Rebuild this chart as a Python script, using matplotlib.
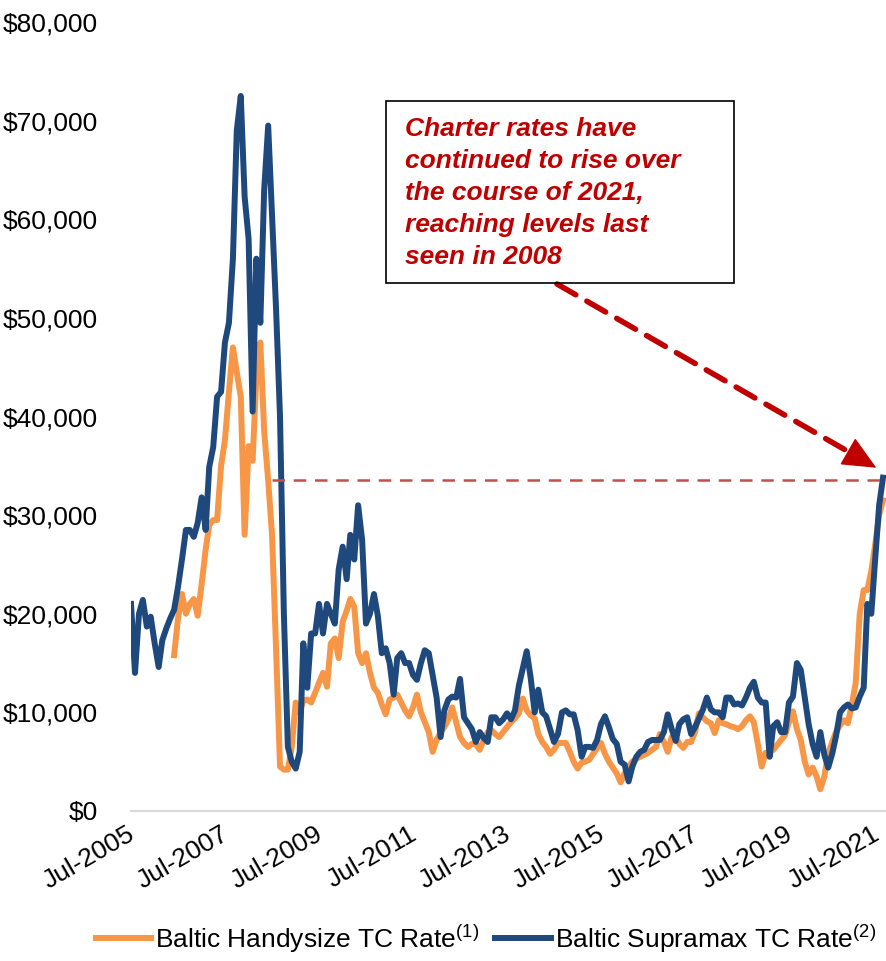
import numpy as np
import pandas as pd
import matplotlib
matplotlib.use("Agg")
import matplotlib.pyplot as plt
import matplotlib.dates as mdates
from matplotlib.patches import Rectangle
from matplotlib.ticker import FuncFormatter
from matplotlib.transforms import ScaledTranslation

# monthly TC rates, $ thousand / day
supramax = [
    21.0, 14.0, 20.0, 21.4, 18.7, 19.7, 17.0, 14.6, 17.3, 18.5, 19.5, 20.4,
    22.7, 25.5, 28.5, 28.5, 27.8, 29.2, 31.8, 28.5, 34.9, 36.9, 42.0, 42.5,
    47.5, 49.5, 56.0, 69.0, 72.5, 62.3, 58.0, 40.5, 56.0, 49.5, 63.0, 69.5,
    60.5, 51.0, 40.0, 20.0, 6.5, 5.0, 4.3, 6.0, 17.0, 12.5, 18.0, 18.0,
    21.0, 18.0, 21.0, 20.0, 19.0, 24.5, 26.8, 23.5, 28.0, 25.5, 31.0, 27.5,
    19.0, 20.0, 22.0, 19.8, 16.0, 16.5, 15.0, 11.8, 15.5, 16.0, 15.0, 15.0,
    13.8, 13.3, 15.0, 16.3, 16.0, 13.8, 11.5, 7.5, 10.2, 11.3, 11.6, 11.5,
    13.4, 9.5, 8.9, 8.3, 7.0, 8.0, 7.4, 7.0, 9.5, 9.5, 8.9, 9.3,
    9.9, 9.3, 10.2, 12.7, 14.5, 16.2, 13.5, 10.0, 12.3, 10.0, 9.6, 8.3,
    7.0, 7.8, 10.0, 10.2, 9.8, 9.8, 8.2, 5.5, 6.5, 6.5, 6.4, 7.2,
    8.8, 9.6, 8.5, 7.3, 6.8, 5.0, 4.7, 3.0, 4.5, 5.5, 6.0, 6.2,
    7.0, 7.2, 7.2, 7.2, 8.0, 9.8, 8.3, 7.1, 8.8, 9.3, 9.5, 7.8,
    8.5, 9.4, 10.3, 11.5, 10.3, 10.0, 10.0, 9.5, 11.5, 11.5, 10.8, 10.9,
    10.7, 11.5, 12.5, 13.1, 11.5, 11.0, 11.0, 5.5, 8.6, 9.0, 8.0, 8.0,
    11.0, 11.6, 15.0, 14.3, 11.5, 8.8, 6.8, 5.5, 8.0, 5.7, 4.4, 5.8,
    7.6, 10.0, 10.5, 10.8, 10.4, 10.5, 11.6, 12.5, 21.0, 20.0, 25.5, 31.0, 33.8,
]
handysize = [
    15.8,
    19.5, 22.0, 20.0, 21.0, 21.5, 19.8, 23.0, 26.5, 29.0, 29.5, 29.5, 35.0,
    37.6, 42.5, 47.0, 44.5, 42.0, 28.0, 37.0, 35.5, 44.0, 47.5, 38.5, 33.5,
    28.0, 16.6, 4.5, 4.2, 4.2, 6.5, 11.0, 10.0, 11.2, 11.3, 11.0, 12.0,
    13.0, 14.0, 12.6, 17.0, 17.5, 15.5, 19.2, 20.3, 21.5, 20.7, 16.0, 15.0,
    16.0, 14.0, 12.5, 12.0, 10.8, 9.8, 11.3, 11.5, 11.8, 11.0, 10.2, 9.6,
    10.5, 11.8, 10.0, 9.0, 8.0, 6.0, 7.2, 8.0, 8.5, 9.3, 10.5, 9.0,
    7.5, 6.9, 6.5, 6.8, 6.8, 6.2, 7.2, 8.0, 8.2, 7.8, 7.5, 8.0,
    8.5, 9.0, 9.4, 9.9, 11.4, 10.2, 9.7, 9.4, 7.8, 7.0, 6.5, 5.8,
    6.2, 6.9, 6.9, 6.9, 6.0, 5.0, 4.3, 4.9, 5.0, 5.2, 5.8, 6.4,
    6.9, 5.8, 5.0, 4.4, 3.8, 2.9, 3.8, 4.5, 5.0, 5.3, 5.5, 5.7,
    5.9, 6.2, 6.5, 7.8, 7.0, 6.0, 7.5, 7.5, 6.8, 6.4, 7.0, 7.0,
    8.0, 9.9, 9.5, 9.1, 8.9, 7.9, 9.2, 8.9, 8.8, 8.6, 8.5, 8.3,
    8.6, 9.2, 9.6, 9.0, 6.8, 4.5, 5.9, 5.9, 6.2, 6.7, 7.2, 7.7,
    9.0, 10.1, 8.3, 7.2, 5.0, 3.7, 4.4, 3.5, 2.2, 3.5, 5.8, 7.0,
    8.0, 8.7, 9.2, 8.9, 10.8, 13.0, 20.0, 22.4, 22.4, 24.3, 27.0, 30.0, 31.5,
]
sup_dates = pd.date_range("2005-07-01", periods=len(supramax), freq="MS")
handy_dates = pd.date_range("2006-06-01", periods=len(handysize), freq="MS")

tick_dates = pd.date_range("2005-07-01", "2021-07-01", freq="24MS")
level_2008 = 33600
note = ("Charter rates have\ncontinued to rise over\nthe course of 2021,\n"
        "reaching levels last\nseen in 2008")

plt.rcParams["font.family"] = ["Liberation Sans", "DejaVu Sans"]
plt.rcParams["mathtext.fontset"] = "custom"
plt.rcParams["mathtext.rm"] = "Liberation Sans"

fig = plt.figure(figsize=(8.87, 9.61), dpi=100)
ax = fig.add_axes([131 / 887, 1 - 811 / 961, 1 - 131 / 887, (811 - 22) / 961])

orange = "#F79646"
navy = "#1F497D"
ax.plot(handy_dates, [v * 1000 for v in handysize], color=orange, lw=4.3,
        solid_joinstyle="round", label=r"Baltic Handysize TC Rate$^{(1)}$")
ax.plot(sup_dates, [v * 1000 for v in supramax], color=navy, lw=4.3,
        solid_joinstyle="round", label=r"Baltic Supramax TC Rate$^{(2)}$")

ax.hlines(level_2008, pd.Timestamp("2008-07-01"), pd.Timestamp("2021-08-01"),
          colors="#C0504D", lw=1.8, linestyles=(0, (5, 3.5)))

ax.set_xlim(pd.Timestamp("2005-07-01"), pd.Timestamp("2021-08-01"))
ax.set_ylim(0, 80000)
ax.set_yticks(range(0, 80001, 10000))
ax.yaxis.set_major_formatter(FuncFormatter(lambda v, p: f"${v:,.0f}"))
ax.set_xticks(tick_dates)
ax.xaxis.set_major_formatter(mdates.DateFormatter("%b-%Y"))
ax.tick_params(axis="y", length=0, pad=24, labelsize=19)
ax.tick_params(axis="x", length=0, pad=8, labelsize=19)
xlabels = ax.get_xticklabels()
for i, lab in enumerate(xlabels):
    lab.set_rotation(30)
    lab.set_ha("right")
    lab.set_va("top")
    lab.set_rotation_mode("anchor")
    dx = -11 if i == len(xlabels) - 1 else -4
    lab.set_transform(lab.get_transform() +
                      ScaledTranslation(dx / 100, 0, fig.dpi_scale_trans))

for s in ["top", "right", "left"]:
    ax.spines[s].set_visible(False)
ax.spines["bottom"].set_color("#D9D9D9")
ax.spines["bottom"].set_linewidth(1.6)

# callout box
fig.patches.append(Rectangle((386 / 887, 1 - 283 / 961), (734 - 386) / 887,
                             (283 - 101) / 961, transform=fig.transFigure,
                             fill=False, ec="black", lw=1.2))
fig.text(405 / 887, 1 - 117 / 961, note, color="#C00000", fontsize=19,
         fontweight="bold", fontstyle="italic", va="top", ha="left",
         linespacing=1.42)

# dashed arrow from the box to the 2021 level
red = "#C00000"
p_start = fig.transFigure.transform((557 / 887, 1 - 284 / 961))
p_end = ax.transData.transform((mdates.date2num(pd.Timestamp("2021-05-10")), 34800))
unit = (p_end - p_start) / np.hypot(*(p_end - p_start))
p_head = p_end - 22 * unit
ax.annotate("", xy=p_head, xycoords="figure pixels", xytext=p_start,
            textcoords="figure pixels",
            arrowprops=dict(arrowstyle="-", color=red, lw=4,
                            linestyle=(0, (3.9, 2.3)), shrinkA=0, shrinkB=0))
ax.annotate("", xy=p_end, xycoords="figure pixels", xytext=p_head - 2 * unit,
            textcoords="figure pixels",
            arrowprops=dict(arrowstyle="-|>,head_length=1.1,head_width=0.5",
                            color=red, lw=1, shrinkA=0, shrinkB=0,
                            mutation_scale=20))

fig.legend(loc="lower center", bbox_to_anchor=(486 / 887, -0.018), ncol=2,
           frameon=False, fontsize=19, handlelength=2.1, handletextpad=0.15,
           columnspacing=0.6)

fig.savefig("out.png", dpi=100)
